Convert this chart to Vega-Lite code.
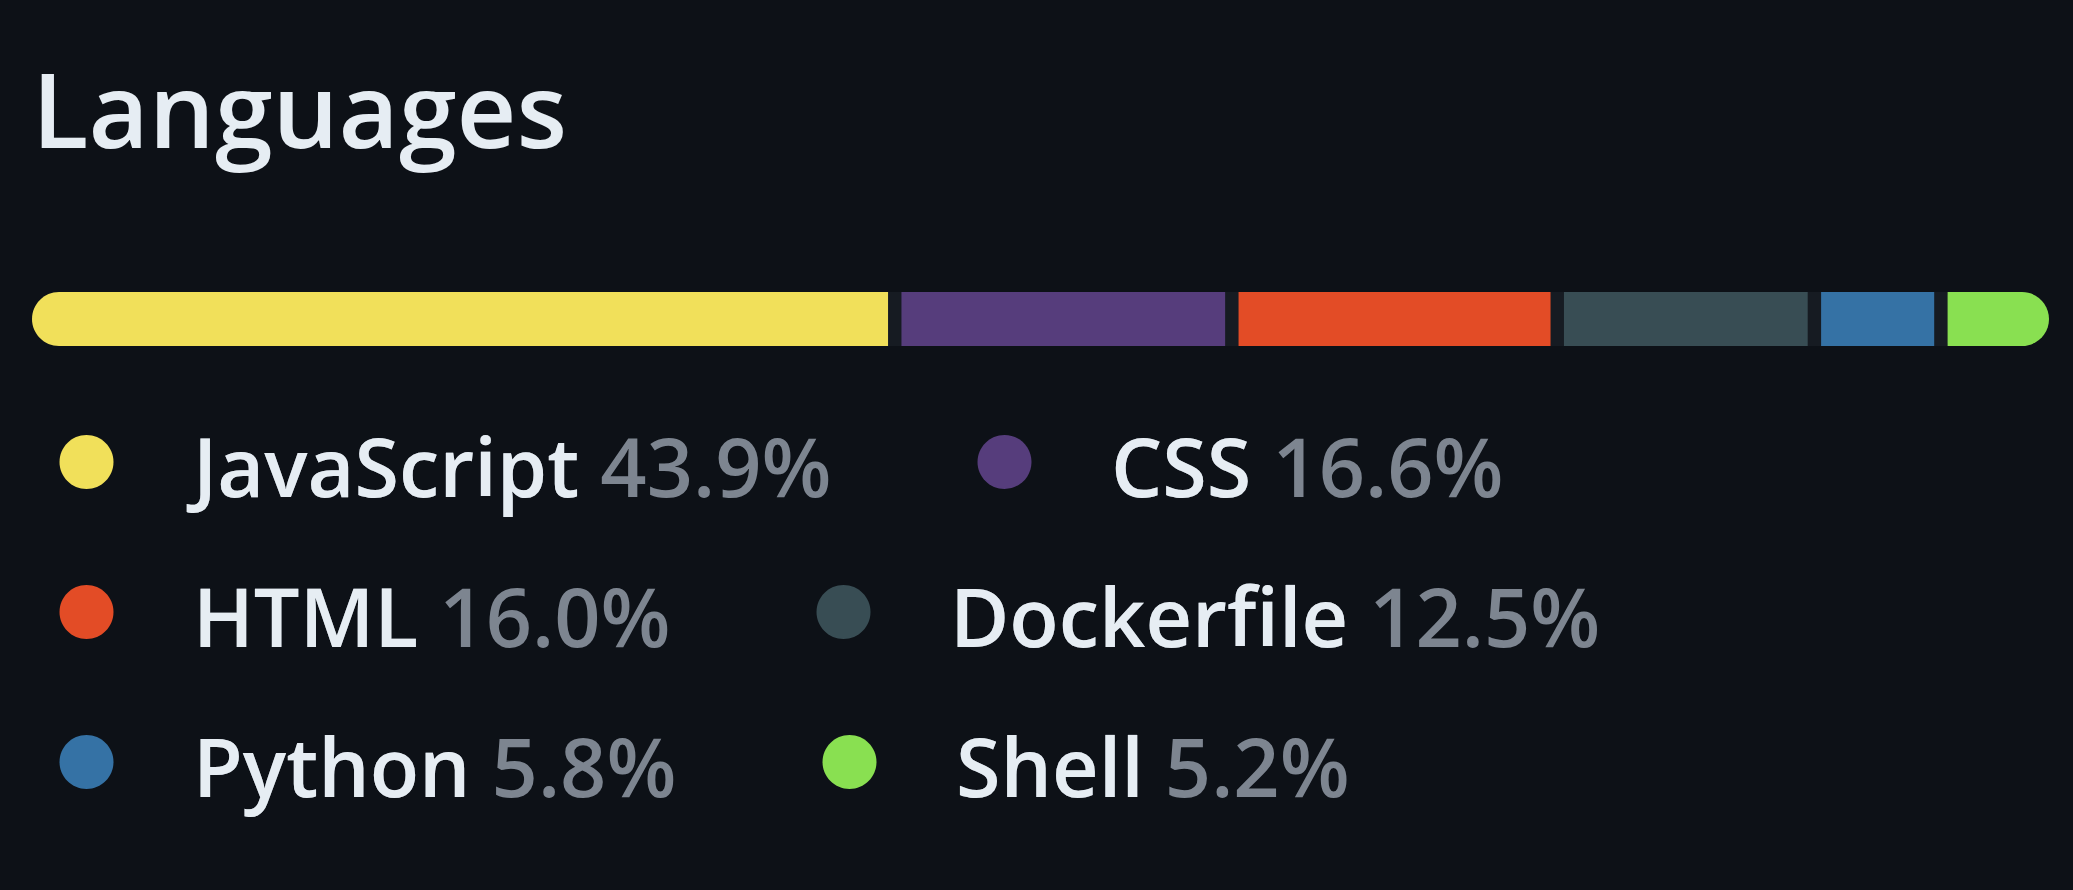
{
  "$schema": "https://vega.github.io/schema/vega-lite/v6.json",
  "width": 1950,
  "height": 54,
  "autosize": {"type": "none"},
  "padding": {"left": 32, "top": 292, "right": 91, "bottom": 544},
  "background": "#0d1117",
  "title": {
    "text": "Languages",
    "anchor": "start",
    "frame": "group",
    "font": "Open Sans",
    "fontSize": 104,
    "fontWeight": 600,
    "color": "#e6edf3",
    "baseline": "alphabetic",
    "offset": 40
  },
  "data": {
    "values": [
      {"language": "JavaScript", "share": 43.9},
      {"language": "CSS", "share": 16.6},
      {"language": "HTML", "share": 16.0},
      {"language": "Dockerfile", "share": 12.5},
      {"language": "Python", "share": 5.8},
      {"language": "Shell", "share": 5.2}
    ]
  },
  "transform": [
    {"window": [{"op": "row_number", "as": "rank"}]},
    {"joinaggregate": [{"op": "count", "as": "n"}]},
    {"stack": "share", "groupby": [], "sort": [{"field": "rank", "order": "ascending"}], "as": ["x0", "x1"]},
    {"calculate": "datum.language + ' ' + format(datum.share, '.1f') + '%'", "as": "label"}
  ],
  "encoding": {
    "x": {"field": "x0", "type": "quantitative", "scale": {"domain": [0, 100], "nice": false, "zero": true}, "axis": null},
    "x2": {"field": "x1"},
    "y": {"datum": "bar", "type": "nominal", "scale": {"paddingInner": 0, "paddingOuter": 0}, "axis": null}
  },
  "layer": [
    {
      "transform": [
        {"aggregate": [
          {"op": "min", "field": "x0", "as": "x0"},
          {"op": "max", "field": "x1", "as": "x1"},
          {"op": "max", "field": "rank", "as": "rank"}
        ]}
      ],
      "mark": {
        "type": "bar", "strokeWidth": 0, "color": "#161b22", "cornerRadius": 27,
        "x2Offset": {"expr": "(datum.rank - 1) * 13.4"}
      }
    },
    {
      "transform": [{"filter": "datum.rank <= 2"}],
      "mark": {
        "type": "bar", "strokeWidth": 0,
        "xOffset": {"expr": "(datum.rank - 1) * 13.4"},
        "x2Offset": {"expr": "(datum.rank - 1) * 13.4"},
        "cornerRadiusTopLeft": {"expr": "datum.rank == 1 ? 27 : 0"},
        "cornerRadiusBottomLeft": {"expr": "datum.rank == 1 ? 27 : 0"},
        "cornerRadiusTopRight": {"expr": "datum.rank == datum.n ? 27 : 0"},
        "cornerRadiusBottomRight": {"expr": "datum.rank == datum.n ? 27 : 0"}
      },
      "encoding": {
        "color": {
          "field": "label", "type": "nominal", "sort": {"field": "rank", "op": "min"},
          "scale": {"range": ["#f1e05a", "#563d7c"]},
          "legend": {"title": null, "legendY": 140, "labelColor": "#7d8590"}
        },
        "stroke": {
          "field": "label", "type": "nominal", "sort": {"field": "rank", "op": "max"},
          "legend": {
            "title": null, "legendY": 140, "labelColor": "#e6edf3", "symbolOpacity": 0,
            "labelExpr": "datum.index % 2 == 1 ? split(datum.label, ' ')[0] : datum.label",
            "labelOpacity": {"expr": "datum.index % 2 == 1 ? 1 : 0"}
          }
        },
        "strokeDash": {
          "field": "label", "type": "nominal", "sort": {"field": "rank", "op": "sum"},
          "legend": {
            "title": null, "legendY": 140, "labelColor": "#e6edf3", "symbolOpacity": 0,
            "labelExpr": "split(datum.label, ' ')[0]",
            "labelOpacity": {"expr": "datum.index % 2 == 0 ? 1 : 0"}
          }
        }
      }
    },
    {
      "transform": [{"filter": "datum.rank >= 3 && datum.rank <= 4"}],
      "mark": {
        "type": "bar", "strokeWidth": 0,
        "xOffset": {"expr": "(datum.rank - 1) * 13.4"},
        "x2Offset": {"expr": "(datum.rank - 1) * 13.4"},
        "cornerRadiusTopLeft": {"expr": "datum.rank == 1 ? 27 : 0"},
        "cornerRadiusBottomLeft": {"expr": "datum.rank == 1 ? 27 : 0"},
        "cornerRadiusTopRight": {"expr": "datum.rank == datum.n ? 27 : 0"},
        "cornerRadiusBottomRight": {"expr": "datum.rank == datum.n ? 27 : 0"}
      },
      "encoding": {
        "color": {
          "field": "label", "type": "nominal", "sort": {"field": "rank", "op": "min"},
          "scale": {"range": ["#e34c26", "#384d54"]},
          "legend": {"title": null, "legendY": 290, "labelColor": "#7d8590"}
        },
        "stroke": {
          "field": "label", "type": "nominal", "sort": {"field": "rank", "op": "max"},
          "legend": {
            "title": null, "legendY": 290, "labelColor": "#e6edf3", "symbolOpacity": 0,
            "labelExpr": "datum.index % 2 == 1 ? split(datum.label, ' ')[0] : datum.label",
            "labelOpacity": {"expr": "datum.index % 2 == 1 ? 1 : 0"}
          }
        },
        "strokeDash": {
          "field": "label", "type": "nominal", "sort": {"field": "rank", "op": "sum"},
          "legend": {
            "title": null, "legendY": 290, "labelColor": "#e6edf3", "symbolOpacity": 0,
            "labelExpr": "split(datum.label, ' ')[0]",
            "labelOpacity": {"expr": "datum.index % 2 == 0 ? 1 : 0"}
          }
        }
      }
    },
    {
      "transform": [{"filter": "datum.rank >= 5"}],
      "mark": {
        "type": "bar", "strokeWidth": 0,
        "xOffset": {"expr": "(datum.rank - 1) * 13.4"},
        "x2Offset": {"expr": "(datum.rank - 1) * 13.4"},
        "cornerRadiusTopLeft": {"expr": "datum.rank == 1 ? 27 : 0"},
        "cornerRadiusBottomLeft": {"expr": "datum.rank == 1 ? 27 : 0"},
        "cornerRadiusTopRight": {"expr": "datum.rank == datum.n ? 27 : 0"},
        "cornerRadiusBottomRight": {"expr": "datum.rank == datum.n ? 27 : 0"}
      },
      "encoding": {
        "color": {
          "field": "label", "type": "nominal", "sort": {"field": "rank", "op": "min"},
          "scale": {"range": ["#3572a5", "#89e051"]},
          "legend": {"title": null, "legendY": 440, "labelColor": "#7d8590"}
        },
        "stroke": {
          "field": "label", "type": "nominal", "sort": {"field": "rank", "op": "max"},
          "legend": {
            "title": null, "legendY": 440, "labelColor": "#e6edf3", "symbolOpacity": 0,
            "labelExpr": "datum.index % 2 == 1 ? split(datum.label, ' ')[0] : datum.label",
            "labelOpacity": {"expr": "datum.index % 2 == 1 ? 1 : 0"}
          }
        },
        "strokeDash": {
          "field": "label", "type": "nominal", "sort": {"field": "rank", "op": "sum"},
          "legend": {
            "title": null, "legendY": 440, "labelColor": "#e6edf3", "symbolOpacity": 0,
            "labelExpr": "split(datum.label, ' ')[0]",
            "labelOpacity": {"expr": "datum.index % 2 == 0 ? 1 : 0"}
          }
        }
      }
    }
  ],
  "resolve": {
    "scale": {"color": "independent", "stroke": "independent", "strokeDash": "independent"},
    "legend": {"color": "independent", "stroke": "independent", "strokeDash": "independent"}
  },
  "config": {
    "view": {"stroke": null},
    "legend": {
      "orient": "none",
      "direction": "horizontal",
      "legendX": 14,
      "columns": 2,
      "symbolType": "M -1 -0.4 A 1 1 0 1 1 1 -0.4 A 1 1 0 1 1 -1 -0.4 Z",
      "symbolSize": 2916,
      "symbolStrokeWidth": 0,
      "labelFont": "Open Sans",
      "labelFontSize": 81,
      "labelFontWeight": 600,
      "labelOffset": 66,
      "labelLimit": 3000,
      "columnPadding": 132,
      "rowPadding": 0,
      "padding": 0
    }
  }
}
